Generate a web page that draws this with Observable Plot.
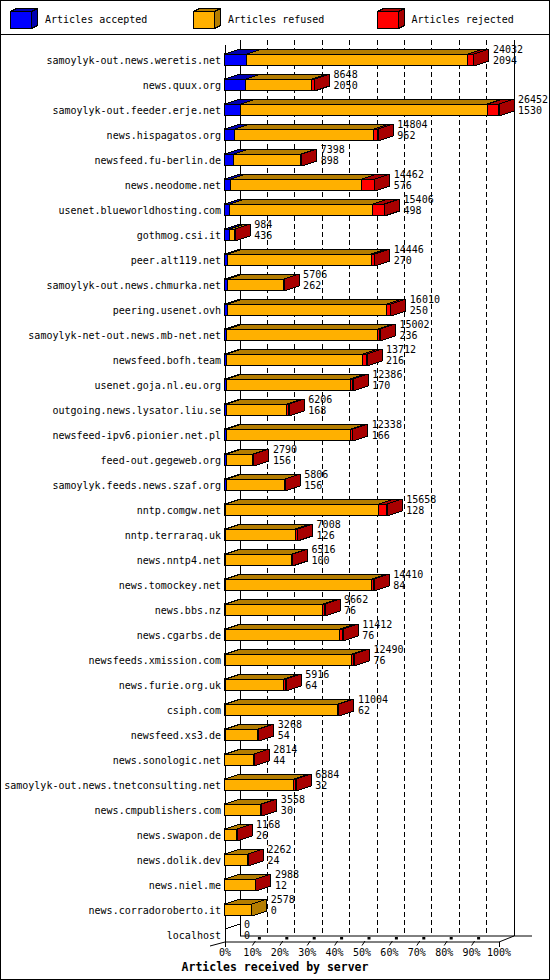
<!DOCTYPE html>
<html><head><meta charset="utf-8">
<script src="https://cdn.jsdelivr.net/npm/d3@7"></script>
<script src="https://cdn.jsdelivr.net/npm/@observablehq/plot@0.6"></script>
<style>
html,body{margin:0;padding:0;background:#fff;}
#wrap{position:relative;width:550px;height:980px;box-sizing:border-box;border:1px solid #000;font-family:"DejaVu Sans Mono",monospace;background:#fff;overflow:hidden;}
#legend{position:relative;height:33px;border-bottom:1px solid #000;}
.item{position:absolute;top:0;height:33px;width:170px;}
.item svg{position:absolute;top:0;left:0;}
.item span{position:absolute;left:35px;top:13px;font-size:10px;line-height:12px;white-space:nowrap;color:#000;}
#chart svg{display:block;}
#title{height:20px;line-height:18px;text-align:center;font-weight:bold;font-size:11.5px;color:#000;}
</style></head>
<body>
<div id="wrap">
  <div id="legend"></div>
  <div id="chart"></div>
  <div id="title">Articles received by server</div>
</div>
<script>
// ---- data ----
const servers = [
  "samoylyk-out.news.weretis.net","news.quux.org","samoylyk-out.feeder.erje.net","news.hispagatos.org",
  "newsfeed.fu-berlin.de","news.neodome.net","usenet.blueworldhosting.com","gothmog.csi.it",
  "peer.alt119.net","samoylyk-out.news.chmurka.net","peering.usenet.ovh","samoylyk-net-out.news.mb-net.net",
  "newsfeed.bofh.team","usenet.goja.nl.eu.org","outgoing.news.lysator.liu.se","newsfeed-ipv6.pionier.net.pl",
  "feed-out.gegeweb.org","samoylyk.feeds.news.szaf.org","nntp.comgw.net","nntp.terraraq.uk",
  "news.nntp4.net","news.tomockey.net","news.bbs.nz","news.cgarbs.de",
  "newsfeeds.xmission.com","news.furie.org.uk","csiph.com","newsfeed.xs3.de",
  "news.sonologic.net","samoylyk-out.news.tnetconsulting.net","news.cmpublishers.com","news.swapon.de",
  "news.dolik.dev","news.niel.me","news.corradoroberto.it","localhost"
];
const totals = [24032,8648,26452,14804,7398,14462,15406,984,14446,5706,16010,15002,13712,12386,6206,12338,
  2790,5806,15658,7008,6516,14410,9662,11412,12490,5916,11004,3268,2814,6884,3558,1168,2262,2988,2578,0];
const accepted = [2094,2050,1530,962,898,576,498,436,270,262,250,236,216,170,168,166,
  156,156,128,126,100,84,76,76,76,64,62,54,44,32,30,26,24,12,0,0];
const rejected = [580,220,1100,420,60,1200,1150,20,300,30,400,220,420,260,200,200,
  40,30,750,200,60,250,180,300,250,180,130,40,30,200,40,20,30,30,0,0];
const seriesNames = ["Articles accepted","Articles refused","Articles rejected"];
const seriesColors = ["#0000ff","#ffb000","#ff0000"];
const seriesDark = ["#0000b0","#b47d00","#a80000"];
const tickPct = [0,10,20,30,40,50,60,70,80,90,100];
const tickLabels = ["0%","10%","20%","30%","40%","50%","60%","70%","80%","90%","100%"];

// ---- legend ----
const legend = document.getElementById("legend");
const legendLeft = [9, 192, 375.5];
seriesNames.forEach((name, k) => {
  const div = document.createElement("div");
  div.className = "item";
  div.style.left = legendLeft[k] + "px";
  div.innerHTML =
    `<svg width="40" height="33" shape-rendering="crispEdges">
      <polygon points="0.5,10.5 6.5,7.5 27.5,7.5 21.5,10.5" fill="${seriesDark[k]}" stroke="#000"/>
      <polygon points="21.5,10.5 27.5,7.5 27.5,24.5 21.5,27.5" fill="${seriesDark[k]}" stroke="#000"/>
      <rect x="0.5" y="10.5" width="21" height="17" fill="${seriesColors[k]}" stroke="#000"/>
    </svg><span>${name}</span>`;
  legend.appendChild(div);
});

// ---- chart ----
const n = servers.length;
const xMax = d3.max(totals);
const W = 548, H = 923;
const xr0 = 223.5, xr1 = 497.5;
const rowY0 = 24.5, rowStep = 25;
const pxX = xMax / (xr1 - xr0);      // data units per pixel (x)
const pxY = 1 / rowStep;             // row units per pixel (y)
const DX = 15 * pxX, DY = 5 * pxY;   // 3D depth
const HALF = 6 * pxY;                // half bar height

const rows = servers.map((name, i) => ({
  i, name, total: totals[i], acc: accepted[i], rej: rejected[i],
  ref: totals[i] - accepted[i] - rejected[i]
}));

const segs = [];
rows.forEach(r => {
  const bounds = [[0, r.acc], [r.acc, r.acc + r.ref], [r.acc + r.ref, r.total]];
  bounds.forEach(([a, b], k) => { if (b > a) segs.push({i: r.i, k, a, b}); });
});
const lastSeg = d3.rollup(segs, v => v[v.length - 1], d => d.i);

const topPts = [], sidePts = [];
segs.forEach((s, j) => {
  const t = s.i - HALF;
  [[s.a, t], [s.a + DX, t - DY], [s.b + DX, t - DY], [s.b, t], [s.a, t]]
    .forEach(([x, y]) => topPts.push({id: j, k: s.k, x, y}));
});
for (const [i, s] of lastSeg) {
  const t = i - HALF, b = i + HALF;
  [[s.b, t], [s.b + DX, t - DY], [s.b + DX, b - DY], [s.b, b], [s.b, t]]
    .forEach(([x, y]) => sidePts.push({id: i, k: s.k, x, y}));
}

// frame geometry (row units)
const yTopBack = -0.78, yTopFront = -0.58;
const yBackAxis = (n - 1) + 0.04, yFrontAxis = (n - 1) + 0.28;
const yTickLabel = (n - 1) + 0.7;
const ticks = tickPct.map((p, j) => ({p, v: p / 100 * xMax, label: tickLabels[j]}));

const black = {stroke: "#000", strokeWidth: 1, shapeRendering: "crispEdges"};
const marks = [];

// back grid
marks.push(Plot.ruleX(ticks.filter(t => t.p > 0 && t.p < 100),
  {x: t => t.v + DX, y1: yTopBack, y2: yBackAxis, ...black, strokeDasharray: "5,3"}));
marks.push(Plot.ruleX(ticks.filter(t => t.p === 0 || t.p === 100),
  {x: t => t.v + DX, y1: yTopBack, y2: yBackAxis, ...black}));
// front-left axis
marks.push(Plot.ruleX([0], {x: 0, y1: yTopFront, y2: yFrontAxis, ...black}));
// floor
const floor = [
  {x1: DX, y1: yBackAxis, x2: xMax + 33 * pxX, y2: yBackAxis},
  {x1: 0, y1: yFrontAxis, x2: xMax, y2: yFrontAxis},
  {x1: xMax, y1: yFrontAxis, x2: xMax + DX, y2: yBackAxis},
  {x1: -DX, y1: yFrontAxis + 4 * pxY, x2: 0, y2: yFrontAxis}
];
marks.push(Plot.link(floor, {x1: "x1", y1: "y1", x2: "x2", y2: "y2", stroke: "#000", strokeWidth: 1}));
// floor ticks
marks.push(Plot.link(ticks.filter(t => t.p > 0 && t.p < 100), {
  x1: t => t.v, y1: yFrontAxis + 3.5 * pxY, x2: t => t.v + 3 * pxX, y2: yFrontAxis - 1 * pxY,
  stroke: "#000", strokeWidth: 1}));
marks.push(Plot.rect(ticks.filter(t => t.p > 0 && t.p < 100), {
  x1: t => t.v + 6 * pxX, x2: t => t.v + 9 * pxX,
  y1: yBackAxis + 1.5 * pxY, y2: yBackAxis + 4 * pxY, fill: "#000"}));
marks.push(Plot.ruleX(ticks.filter(t => t.p === 0 || t.p === 100),
  {x: "v", y1: yFrontAxis, y2: yFrontAxis + 5 * pxY, ...black}));

// bars: fronts
seriesColors.forEach((c, k) => {
  marks.push(Plot.rect(segs.filter(s => s.k === k), {
    x1: "a", x2: "b", y1: s => s.i - HALF, y2: s => s.i + HALF,
    fill: c, ...black}));
});
// tops
seriesDark.forEach((c, k) => {
  marks.push(Plot.line(topPts.filter(p => p.k === k), {
    x: "x", y: "y", z: "id", fill: c, stroke: "#000", strokeWidth: 1,
    curve: "linear", strokeLinejoin: "miter", shapeRendering: "crispEdges"}));
});
// sides
seriesDark.forEach((c, k) => {
  marks.push(Plot.line(sidePts.filter(p => p.k === k), {
    x: "x", y: "y", z: "id", fill: c, stroke: "#000", strokeWidth: 1,
    curve: "linear", strokeLinejoin: "miter", shapeRendering: "crispEdges"}));
});
// empty bars: degenerate top edge
marks.push(Plot.link(rows.filter(r => r.total === 0), {
  x1: 0, y1: r => r.i - HALF, x2: DX, y2: r => r.i - HALF - DY,
  stroke: "#000", strokeWidth: 1, shapeRendering: "crispEdges"}));

// category labels
marks.push(Plot.text(rows, {x: 0, y: "i", text: "name", textAnchor: "end", dx: -4, dy: 0.5,
  fill: "#000", fontSize: 10}));
// value labels
marks.push(Plot.text(rows, {x: r => r.total + DX, y: "i", text: r => String(r.total),
  textAnchor: "start", dx: 4, dy: -10, fill: "#000", fontSize: 10}));
marks.push(Plot.text(rows, {x: r => r.total + DX, y: "i", text: r => String(r.acc),
  textAnchor: "start", dx: 4, dy: 1, fill: "#000", fontSize: 10}));
// tick labels
marks.push(Plot.text(ticks, {x: "v", y: yTickLabel, text: "label", textAnchor: "middle",
  fill: "#000", fontSize: 10}));

const chart = Plot.plot({
  width: W, height: H,
  marginTop: 0, marginBottom: 0, marginLeft: 0, marginRight: 0,
  x: {domain: [0, xMax], range: [xr0, xr1], axis: null},
  y: {domain: [0, n - 1], range: [rowY0, rowY0 + rowStep * (n - 1)], axis: null},
  style: {fontFamily: "'DejaVu Sans Mono', monospace", fontSize: "10px", background: "#fff", overflow: "visible"},
  marks
});
document.getElementById("chart").appendChild(chart);
</script>
</body></html>
